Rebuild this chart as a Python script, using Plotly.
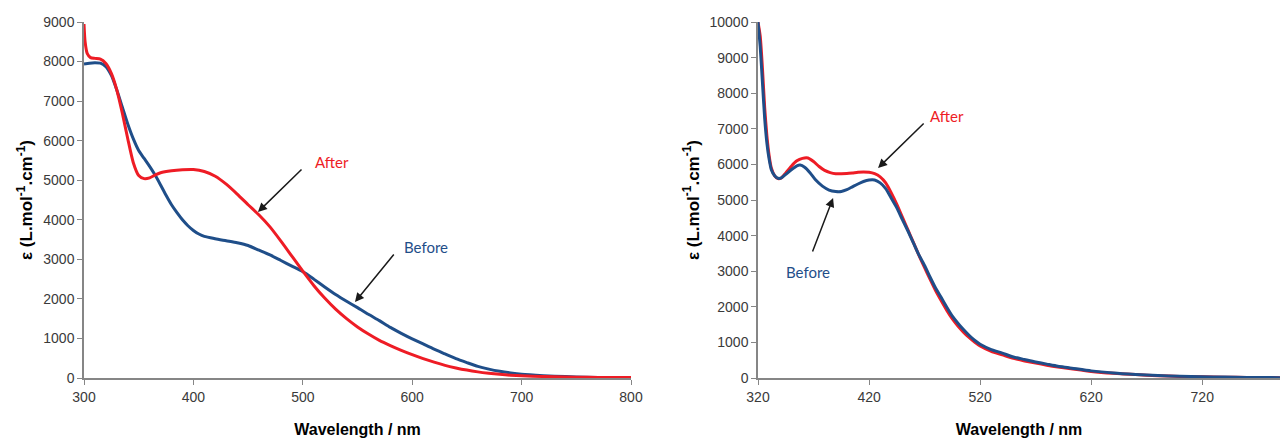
import plotly.graph_objects as go

# ---------------- Left panel data ----------------
left_wl_before = [300, 305, 310, 315, 320, 325, 330, 335, 340, 345, 350, 355, 360, 365, 370, 375,
                  380, 385, 390, 395, 400, 405, 410, 420, 430, 440, 450, 460, 470, 480, 490, 500,
                  510, 520, 530, 540, 550, 560, 570, 580, 590, 600, 610, 620, 630, 640, 650, 660,
                  670, 680, 690, 700, 720, 740, 760, 780, 800]
left_before = [7940, 7960, 7970, 7960, 7870, 7650, 7280, 6850, 6420, 6050, 5750, 5550, 5350, 5130,
               4880, 4620, 4380, 4180, 4000, 3850, 3730, 3640, 3580, 3520, 3470, 3420, 3350, 3230,
               3110, 2970, 2830, 2690, 2500, 2300, 2110, 1940, 1780, 1610, 1450, 1280, 1130, 990,
               860, 730, 610, 490, 390, 295, 225, 170, 128, 95, 60, 35, 20, 12, 8]

left_wl_after = [300, 301, 303, 306, 310, 315, 320, 325, 330, 335, 340, 345, 350, 355, 360, 365,
                 370, 380, 390, 400, 410, 420, 430, 440, 450, 460, 470, 480, 490, 500, 510, 520,
                 530, 540, 550, 560, 570, 580, 590, 600, 610, 620, 630, 640, 650, 660, 670, 680,
                 690, 700, 720, 740, 760, 780, 800]
left_after = [8950, 8500, 8200, 8100, 8080, 8060, 7950, 7700, 7280, 6700, 6050, 5450, 5120, 5040,
              5060, 5130, 5190, 5240, 5265, 5270, 5220, 5100, 4900, 4650, 4380, 4120, 3820, 3460,
              3080, 2700, 2340, 2020, 1740, 1500, 1290, 1110, 950, 820, 700, 590, 490, 400, 320,
              255, 200, 155, 120, 92, 70, 55, 37, 26, 18, 14, 12]

# ---------------- Right panel data ----------------
right_wl_before = [320, 322, 324, 326, 328, 330, 332, 335, 338, 341, 345, 350, 355, 358, 362, 367,
                   372, 378, 384, 390, 395, 400, 405, 410, 415, 420, 425, 430, 435, 440, 445, 450,
                   455, 460, 465, 470, 475, 480, 485, 490, 495, 500, 505, 510, 515, 520, 530, 540,
                   550, 560, 570, 580, 590, 600, 620, 640, 660, 680, 700, 720, 740, 760, 790]
right_before = [10000, 9300, 8300, 7300, 6600, 6150, 5850, 5680, 5610, 5620, 5720, 5850, 5960, 5980,
                5920, 5760, 5560, 5390, 5280, 5240, 5240, 5290, 5370, 5450, 5520, 5560, 5560, 5480,
                5320, 5050, 4780, 4450, 4130, 3790, 3450, 3160, 2830, 2520, 2260, 1990, 1740, 1540,
                1360, 1200, 1060, 950, 800, 700, 590, 520, 450, 390, 330, 290, 200, 140, 100, 70,
                50, 35, 25, 15, 10]

right_wl_after = [320, 322, 324, 326, 328, 330, 332, 335, 338, 341, 345, 350, 355, 360, 365, 370,
                  375, 380, 385, 390, 395, 400, 405, 410, 415, 420, 425, 430, 435, 440, 445, 450,
                  455, 460, 465, 470, 475, 480, 485, 490, 495, 500, 505, 510, 515, 520, 530, 540,
                  550, 560, 570, 580, 590, 600, 620, 640, 660, 680, 700, 720, 740, 760, 790]
right_after = [10000, 9600, 8700, 7600, 6800, 6250, 5900, 5680, 5600, 5620, 5760, 5950, 6100, 6170,
               6180, 6080, 5940, 5830, 5770, 5740, 5740, 5745, 5760, 5780, 5790, 5780, 5740, 5650,
               5480, 5200, 4880, 4520, 4160, 3800, 3440, 3100, 2770, 2450, 2170, 1900, 1660, 1460,
               1290, 1140, 1010, 900, 750, 650, 550, 480, 420, 360, 310, 270, 185, 130, 95, 65,
               45, 32, 22, 14, 10]

left_xticks = [300, 400, 500, 600, 700, 800]
left_yticks = [0, 1000, 2000, 3000, 4000, 5000, 6000, 7000, 8000, 9000]
right_xticks = [320, 420, 520, 620, 720]
right_yticks = [0, 1000, 2000, 3000, 4000, 5000, 6000, 7000, 8000, 9000, 10000]

RED = "#ee1c25"
BLUE = "#1f4e89"
AXIS = "#868686"
TICKFONT = dict(family="Liberation Sans, Arial", size=14, color="#3a3a3a")
XTITLEFONT = dict(family="Liberation Sans, Arial", size=16, color="#000000")
YTITLEFONT = dict(family="Liberation Sans, Arial", size=17, color="#000000")
LABELFONT = "Lato, Open Sans"

W, H = 1280, 442
fig = go.Figure()

fig.add_trace(go.Scatter(x=left_wl_before, y=left_before, mode="lines", xaxis="x", yaxis="y",
                         line=dict(color=BLUE, width=3, shape="spline", smoothing=0.6),
                         showlegend=False))
fig.add_trace(go.Scatter(x=left_wl_after, y=left_after, mode="lines", xaxis="x", yaxis="y",
                         line=dict(color=RED, width=3, shape="spline", smoothing=0.6),
                         showlegend=False))
fig.add_trace(go.Scatter(x=right_wl_after, y=right_after, mode="lines", xaxis="x2", yaxis="y2",
                         line=dict(color=RED, width=3, shape="spline", smoothing=0.6),
                         showlegend=False))
fig.add_trace(go.Scatter(x=right_wl_before, y=right_before, mode="lines", xaxis="x2", yaxis="y2",
                         line=dict(color=BLUE, width=3, shape="spline", smoothing=0.6),
                         showlegend=False))

ydom = [1 - 378 / H, 1 - 22 / H]
common_x = dict(showline=True, linecolor=AXIS, linewidth=1.5, ticks="outside", ticklen=5,
                tickcolor=AXIS, showgrid=False, zeroline=False, tickfont=TICKFONT,
                automargin=False, title_font=XTITLEFONT, title_standoff=20)
common_y = dict(showline=True, linecolor=AXIS, linewidth=1.5, ticks="outside", ticklen=5,
                tickcolor=AXIS, showgrid=False, zeroline=False, tickfont=TICKFONT,
                automargin=False, title_font=YTITLEFONT, title_standoff=6)

ytitle = "<b>ε (L.mol<sup>-1</sup>.cm<sup>-1</sup>)</b>"
xtitle = "<b>Wavelength / nm</b>"

fig.update_layout(
    width=W, height=H,
    margin=dict(l=0, r=0, t=0, b=0),
    paper_bgcolor="white", plot_bgcolor="white",
    xaxis=dict(domain=[84 / W, 631 / W], range=[300, 800], tickvals=left_xticks,
               title_text=xtitle, anchor="y", **common_x),
    yaxis=dict(domain=ydom, range=[0, 9000], tickvals=left_yticks,
               ticktext=[str(v) for v in left_yticks], title_text=ytitle,
               anchor="x", **common_y),
    xaxis2=dict(domain=[758 / W, 1.0], range=[320, 790], tickvals=right_xticks,
                title_text=xtitle, anchor="y2", **common_x),
    yaxis2=dict(domain=ydom, range=[0, 10000], tickvals=right_yticks,
                ticktext=[str(v) for v in right_yticks], title_text=ytitle,
                anchor="x2", **common_y),
)

def arrow(xref, yref, head, tail):
    return dict(x=head[0], y=head[1], ax=tail[0], ay=tail[1], xref=xref, yref=yref,
                axref=xref, ayref=yref, showarrow=True, arrowhead=2, arrowsize=1.2,
                arrowwidth=1.5, arrowcolor="#1a1a1a", text="", standoff=0)

def label(xref, yref, pos, text, color):
    return dict(x=pos[0], y=pos[1], xref=xref, yref=yref, text=text, showarrow=False,
                font=dict(family=LABELFONT, size=15, color=color))

fig.update_layout(annotations=[
    arrow("x", "y", (459, 4196), (500.2, 5308)),
    label("x", "y", (527, 5460), "After", RED),
    arrow("x", "y", (547.7, 1921), (584.3, 3160)),
    label("x", "y", (613, 3311), "Before", BLUE),
    arrow("x2", "y2", (428.1, 5899), (470.5, 7191)),
    label("x2", "y2", (490.5, 7360), "After", RED),
    arrow("x2", "y2", (387.6, 5056), (368.6, 3511)),
    label("x2", "y2", (365, 2978), "Before", BLUE),
])

fig.write_html("out.html", config={"displayModeBar": False},
               post_script="document.body.style.margin='0';")
